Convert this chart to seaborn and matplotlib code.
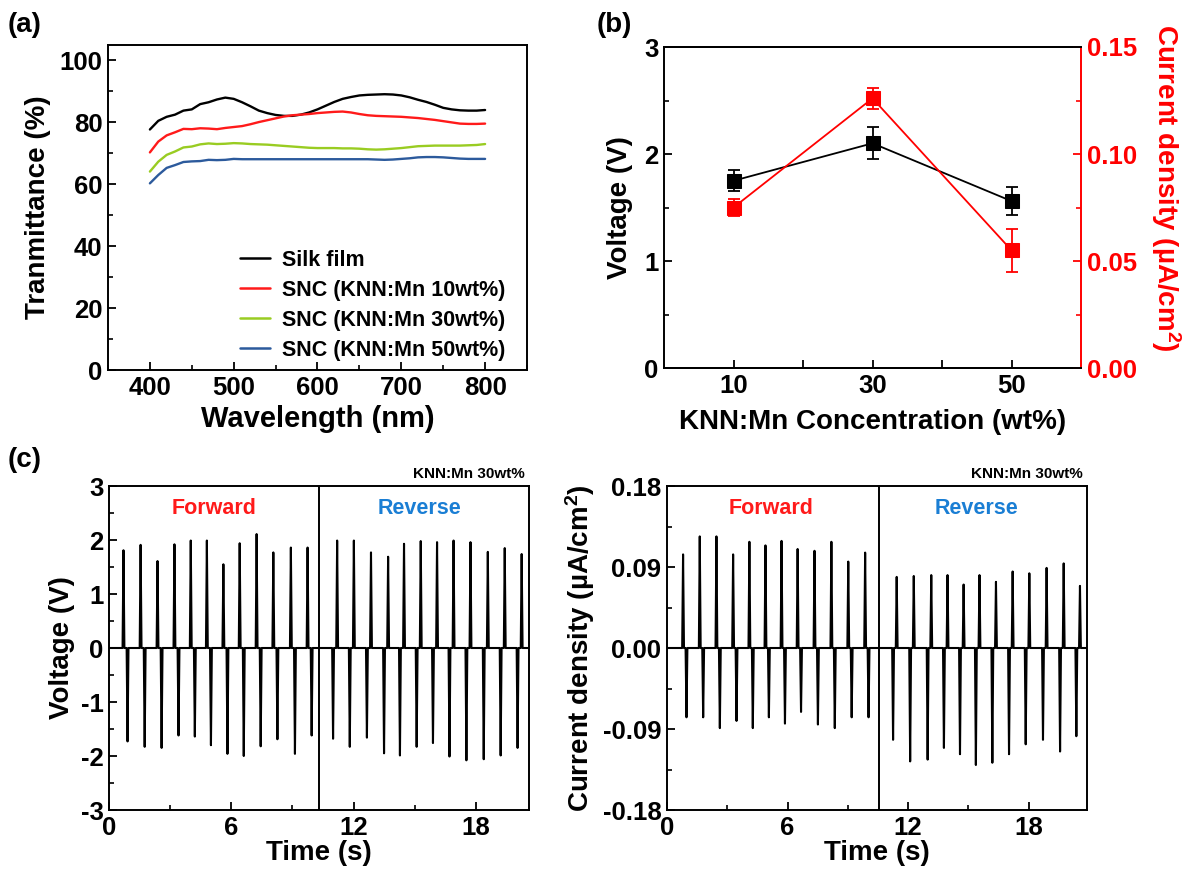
import numpy as np
import pandas as pd
import matplotlib
matplotlib.use('Agg')
import matplotlib.pyplot as plt
import seaborn as sns
from matplotlib.ticker import MultipleLocator, FormatStrFormatter

# ---------------- data ----------------
wavelength = list(range(400, 801, 10))
silk = [77.7, 80.5, 81.8, 82.5, 83.8, 84.2, 85.9, 86.5, 87.4, 88.0, 87.6, 86.5, 85.2, 83.8,
        83.0, 82.4, 82.1, 82.1, 82.5, 83.2, 84.2, 85.4, 86.6, 87.6, 88.2, 88.7, 88.9, 89.0,
        89.1, 89.0, 88.7, 88.1, 87.3, 86.6, 85.7, 84.7, 84.2, 83.9, 83.8, 83.8, 84.0]
snc10 = [70.3, 73.8, 75.8, 76.8, 77.9, 77.8, 78.1, 78.0, 77.8, 78.2, 78.5, 78.8, 79.4, 80.1,
         80.7, 81.3, 81.9, 82.3, 82.5, 82.7, 83.0, 83.2, 83.4, 83.5, 83.2, 82.7, 82.3, 82.1,
         82.0, 81.9, 81.8, 81.6, 81.4, 81.1, 80.8, 80.4, 80.0, 79.6, 79.5, 79.5, 79.6]
snc30 = [64.1, 67.3, 69.5, 70.6, 71.9, 72.2, 72.9, 73.2, 73.0, 73.1, 73.3, 73.2, 73.0, 72.9,
         72.8, 72.6, 72.4, 72.2, 72.0, 71.8, 71.7, 71.7, 71.7, 71.6, 71.6, 71.5, 71.3, 71.2,
         71.3, 71.5, 71.7, 72.0, 72.3, 72.4, 72.5, 72.5, 72.5, 72.5, 72.6, 72.7, 73.0]
snc50 = [60.3, 63.0, 65.3, 66.2, 67.2, 67.4, 67.5, 67.9, 67.8, 67.9, 68.2, 68.1, 68.1, 68.1,
         68.1, 68.1, 68.1, 68.1, 68.1, 68.1, 68.1, 68.1, 68.1, 68.1, 68.1, 68.1, 68.1, 68.0,
         67.9, 68.0, 68.2, 68.4, 68.7, 68.8, 68.8, 68.7, 68.5, 68.3, 68.2, 68.2, 68.2]
sample_names = ['Silk film', 'SNC (KNN:Mn 10wt%)', 'SNC (KNN:Mn 30wt%)', 'SNC (KNN:Mn 50wt%)']
sample_colors = ['#000000', '#ff1a1a', '#99cc22', '#2c5a9c']

conc = [10, 30, 50]
voltage = [1.75, 2.10, 1.56]
voltage_err = [0.10, 0.15, 0.13]
current = [0.075, 0.126, 0.055]
current_err = [0.004, 0.005, 0.010]

# (c) voltage spikes
v_fwd_t = [0.71, 1.55, 2.38, 3.21, 4.01, 4.80, 5.61, 6.41, 7.24, 8.06, 8.92, 9.74]
v_fwd_pos = [1.81, 1.91, 1.61, 1.92, 1.99, 1.99, 1.55, 1.94, 2.11, 1.77, 1.86, 1.86]
v_fwd_neg = [-1.73, -1.83, -1.85, -1.62, -1.64, -1.80, -1.96, -2.00, -1.82, -1.69, -1.96, -1.62]
v_rev_t = [11.19, 12.01, 12.85, 13.69, 14.47, 15.29, 16.09, 16.90, 17.73, 18.58, 19.41, 20.24]
v_rev_pos = [1.99, 1.99, 1.77, 1.69, 1.93, 1.98, 1.96, 1.99, 1.96, 1.78, 1.85, 1.74]
v_rev_neg = [-1.68, -1.83, -1.66, -1.95, -1.99, -1.83, -1.76, -2.01, -2.08, -2.06, -1.99, -1.85]
# (c) current density spikes
j_fwd_t = [0.80, 1.63, 2.46, 3.29, 4.10, 4.90, 5.70, 6.50, 7.34, 8.18, 9.02, 9.86]
j_fwd_pos = [0.104, 0.124, 0.124, 0.104, 0.118, 0.114, 0.119, 0.110, 0.108, 0.118, 0.096, 0.106]
j_fwd_neg = [-0.077, -0.077, -0.089, -0.081, -0.089, -0.077, -0.084, -0.071, -0.085, -0.089, -0.077, -0.077]
j_rev_t = [11.43, 12.28, 13.15, 13.96, 14.76, 15.55, 16.37, 17.20, 18.03, 18.89, 19.74, 20.55]
j_rev_pos = [0.079, 0.080, 0.081, 0.081, 0.0705, 0.081, 0.0735, 0.085, 0.083, 0.089, 0.094, 0.069]
j_rev_neg = [-0.102, -0.126, -0.124, -0.111, -0.118, -0.130, -0.1275, -0.118, -0.107, -0.102, -0.115, -0.098]

# ---------------- style ----------------
sns.set_style('ticks')
plt.rcParams['font.family'] = ['Liberation Sans', 'DejaVu Sans']
plt.rcParams.update({
    'font.weight': 'bold', 'axes.labelweight': 'bold', 'axes.unicode_minus': False,
    'text.color': 'black', 'axes.labelcolor': 'black',
    'mathtext.fontset': 'custom', 'mathtext.rm': 'Liberation Sans',
    'mathtext.bf': 'Liberation Sans:bold', 'mathtext.it': 'Liberation Sans:italic',
    'xtick.direction': 'in', 'ytick.direction': 'in',
    'axes.linewidth': 1.4, 'axes.edgecolor': 'black',
    'xtick.major.width': 1.3, 'ytick.major.width': 1.3,
    'xtick.minor.width': 1.2, 'ytick.minor.width': 1.2,
    'xtick.major.size': 6, 'ytick.major.size': 6,
    'xtick.minor.size': 3.5, 'ytick.minor.size': 3.5,
    'xtick.color': 'black', 'ytick.color': 'black',
    'xtick.labelcolor': 'black', 'ytick.labelcolor': 'black',
})
TICK_FS = 18.5
LAB_FS = 20

W, H = 1192, 877
fig = plt.figure(figsize=(W / 100, H / 100), dpi=100)
fig.patch.set_facecolor('white')


def add_ax(l, r, t, b):
    return fig.add_axes([l / W, 1 - b / H, (r - l) / W, (b - t) / H])


def style(ax):
    ax.tick_params(which='both', top=False, right=False, labelsize=TICK_FS, pad=4)
    for lab in ax.get_xticklabels() + ax.get_yticklabels():
        lab.set_fontweight('bold')


# ---------------- (a) ----------------
axa = add_ax(108, 527, 45, 370)
df_a = pd.DataFrame({
    'Wavelength': wavelength * 4,
    'T': silk + snc10 + snc30 + snc50,
    'Sample': [n for n in sample_names for _ in wavelength],
})
sns.lineplot(data=df_a, x='Wavelength', y='T', hue='Sample', hue_order=sample_names,
             palette=sample_colors, linewidth=1.7, ax=axa, legend=True)
axa.set_xlim(350, 850)
axa.set_ylim(0, 105)
axa.xaxis.set_major_locator(MultipleLocator(100))
axa.xaxis.set_minor_locator(MultipleLocator(50))
axa.yaxis.set_major_locator(MultipleLocator(20))
axa.yaxis.set_minor_locator(MultipleLocator(10))
axa.set_xlabel('Wavelength (nm)', fontsize=LAB_FS + 1, labelpad=4)
axa.set_ylabel('Tranmittance (%)', fontsize=LAB_FS, labelpad=6)
style(axa)
leg = axa.legend(loc='upper left', bbox_to_anchor=(0.315, 0.37), frameon=False,
                 fontsize=15.5, handlelength=1.4, handletextpad=0.55, labelspacing=0.42,
                 borderpad=0, borderaxespad=0)
for t in leg.get_texts():
    t.set_fontweight('bold')
    t.set_color('black')
for h in leg.get_lines():
    h.set_linewidth(1.8)

# ---------------- (b) ----------------
axb = add_ax(664, 1081, 47, 368)
df_b = pd.DataFrame({'conc': conc, 'V': voltage, 'J': current})
axb.errorbar(conc, voltage, yerr=voltage_err, fmt='none', ecolor='black',
             elinewidth=1.3, capsize=4, capthick=1.3, zorder=2)
sns.lineplot(data=df_b, x='conc', y='V', color='black', marker='s', markersize=10,
             markeredgecolor='black', linewidth=1.3, ax=axb, zorder=3)
axb.set_xlim(0, 60)
axb.set_ylim(0, 3)
axb.set_xticks([10, 20, 30, 40, 50])
axb.set_xticklabels(['10', '', '30', '', '50'])
axb.yaxis.set_major_locator(MultipleLocator(1))
axb.yaxis.set_minor_locator(MultipleLocator(0.5))
axb.set_xlabel('KNN:Mn Concentration (wt%)', fontsize=LAB_FS, labelpad=8)
axb.set_ylabel('Voltage (V)', fontsize=LAB_FS, labelpad=8)
style(axb)
axb.spines['right'].set_visible(False)

axb2 = axb.twinx()
axb2.errorbar(conc, current, yerr=current_err, fmt='none', ecolor='red',
              elinewidth=1.3, capsize=4, capthick=1.3, zorder=2)
sns.lineplot(data=df_b, x='conc', y='J', color='red', marker='s', markersize=10,
             markeredgecolor='red', linewidth=1.3, ax=axb2, zorder=3)
axb2.set_ylim(0, 0.15)
axb2.yaxis.set_major_locator(MultipleLocator(0.05))
axb2.yaxis.set_minor_locator(MultipleLocator(0.025))
axb2.yaxis.set_major_formatter(FormatStrFormatter('%.2f'))
axb2.spines['right'].set_color('red')
axb2.spines['right'].set_linewidth(1.4)
axb2.spines['left'].set_visible(False)
axb2.tick_params(which='both', axis='y', colors='red', labelcolor='red', labelsize=TICK_FS,
                 right=True, left=False, direction='in', pad=4)
for lab in axb2.get_yticklabels():
    lab.set_fontweight('bold')
    lab.set_color('red')
axb2.set_ylabel(r'Current density (µA/cm$^\mathbf{2}$)', fontsize=LAB_FS, color='red',
                rotation=270, labelpad=30)
axb2.yaxis.set_label_coords(1.245, 0.56)


# ---------------- (c) ----------------
def build_trace(groups, t_end, hw=0.045):
    t = [0.0]
    y = [0.0]
    for times, pos, neg, off in groups:
        for tp, vp, vn in zip(times, pos, neg):
            pts = sorted([(tp, vp), (tp + off, vn)])
            for tc, vc in pts:
                t += [tc - hw, tc, tc + hw]
                y += [0.0, vc, 0.0]
    t.append(t_end)
    y.append(0.0)
    return t, y


def spike_panel(ax, groups, xlim, divider, ylim, major, minor, fmt, ylabel):
    t, y = build_trace(groups, xlim[1])
    sns.lineplot(x=t, y=y, sort=False, estimator=None, color='black', linewidth=1.5, ax=ax)
    ax.axvline(divider, color='black', linewidth=1.4)
    ax.set_xlim(*xlim)
    ax.set_ylim(*ylim)
    ax.xaxis.set_major_locator(MultipleLocator(6))
    ax.xaxis.set_minor_locator(MultipleLocator(3))
    ax.yaxis.set_major_locator(MultipleLocator(major))
    ax.yaxis.set_minor_locator(MultipleLocator(minor))
    ax.yaxis.set_major_formatter(FormatStrFormatter(fmt))
    ax.set_xlabel('Time (s)', fontsize=LAB_FS, labelpad=0)
    ax.set_ylabel(ylabel, fontsize=LAB_FS, labelpad=4)
    style(ax)
    ax.text(0.99, 1.015, 'KNN:Mn 30wt%', transform=ax.transAxes, ha='right', va='bottom',
            fontsize=11, fontweight='bold', color='black')


axc1 = add_ax(109, 529, 486, 810)
spike_panel(axc1, [(v_fwd_t, v_fwd_pos, v_fwd_neg, 0.2), (v_rev_t, v_rev_pos, v_rev_neg, -0.2)],
            (0, 20.6), 10.3, (-3, 3), 1, 0.5, '%d', 'Voltage (V)')
axc1.text(0.25, 0.93, 'Forward', transform=axc1.transAxes, ha='center', va='center',
          color='#ff1a1a', fontsize=15.5, fontweight='bold')
axc1.text(0.74, 0.93, 'Reverse', transform=axc1.transAxes, ha='center', va='center',
          color='#1a7ed4', fontsize=15.5, fontweight='bold')

axc2 = add_ax(667, 1087, 486, 810)
spike_panel(axc2, [(j_fwd_t, j_fwd_pos, j_fwd_neg, 0.17), (j_rev_t, j_rev_pos, j_rev_neg, -0.18)],
            (0, 20.9), 10.57, (-0.18, 0.18), 0.09, 0.045, '%.2f',
            r'Current density (µA/cm$^\mathbf{2}$)')
axc2.text(0.248, 0.93, 'Forward', transform=axc2.transAxes, ha='center', va='center',
          color='#ff1a1a', fontsize=15.5, fontweight='bold')
axc2.text(0.738, 0.93, 'Reverse', transform=axc2.transAxes, ha='center', va='center',
          color='#1a7ed4', fontsize=15.5, fontweight='bold')

# panel labels
fig.text(8 / W, 1 - 25 / H, '(a)', fontsize=20, fontweight='bold', ha='left', va='center', color='black')
fig.text(597 / W, 1 - 25 / H, '(b)', fontsize=20, fontweight='bold', ha='left', va='center', color='black')
fig.text(8 / W, 1 - 460 / H, '(c)', fontsize=20, fontweight='bold', ha='left', va='center', color='black')

fig.savefig('out.png', dpi=100, facecolor='white')
